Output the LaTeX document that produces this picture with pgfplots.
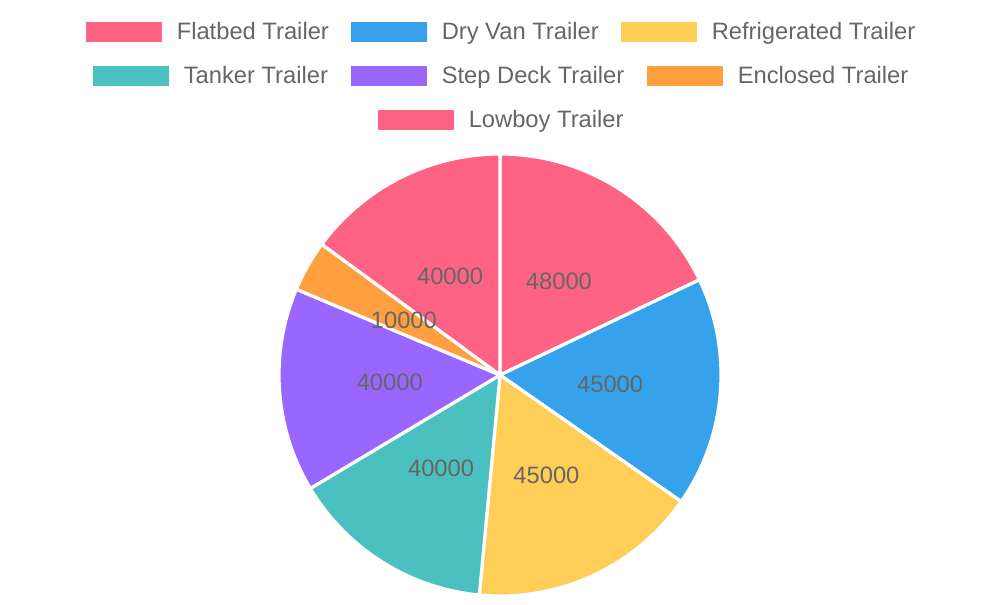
\documentclass[border=0pt]{standalone}
\usepackage{pgfplots}
\usepackage{pgfplotstable}
\usepackage{fontspec}
\setmainfont{Liberation Sans}
\pgfplotsset{compat=1.18}

\definecolor{pieA}{HTML}{FF6384}
\definecolor{pieB}{HTML}{36A2EB}
\definecolor{pieC}{HTML}{FFCE56}
\definecolor{pieD}{HTML}{4BC0C0}
\definecolor{pieE}{HTML}{9966FF}
\definecolor{pieF}{HTML}{FF9F40}
\definecolor{labgrey}{HTML}{666666}

% value, slice colour, legend box position (left x, centre y, in pixels from top)
\pgfplotstableread[col sep=comma]{
name,value,colour,lx,ly
Flatbed Trailer,48000,pieA,86,32
Dry Van Trailer,45000,pieB,351,32
Refrigerated Trailer,45000,pieC,621,32
Tanker Trailer,40000,pieD,93,76
Step Deck Trailer,40000,pieE,351,76
Enclosed Trailer,10000,pieF,647,76
Lowboy Trailer,40000,pieA,378,120
}\pietable

\begin{document}
\begin{tikzpicture}[lab/.style={font=\fontsize{17.8pt}{21pt}\selectfont, text=labgrey, inner sep=0pt}]
\pgfplotstablegetrowsof{\pietable}
\pgfmathtruncatemacro{\lastrow}{\pgfplotsretval-1}
\gdef\total{0}
\foreach \i in {0,...,\lastrow}{%
  \pgfplotstablegetelem{\i}{value}\of\pietable
  \xdef\total{\fpeval{\total+\pgfplotsretval}}%
}
\begin{axis}[hide axis, scale only axis, width=750pt, height=450pt,
  xmin=0, xmax=1000, ymin=0, ymax=600, clip=false]
\path (0,0) rectangle (1000,600);
% slices, clockwise from 12 o'clock
\xdef\startang{90}
\foreach \i in {0,...,\lastrow}{%
  \pgfplotstablegetelem{\i}{value}\of\pietable \let\val\pgfplotsretval
  \pgfplotstablegetelem{\i}{colour}\of\pietable \let\col\pgfplotsretval
  \edef\endang{\fpeval{\startang-360*\val/\total}}%
  \edef\cmd{\noexpand\filldraw[fill=\col, draw=white, line width=2.4pt, line join=round]
    (500,225) -- ++(\startang:165.75pt) arc[start angle=\startang, end angle=\endang, radius=165.75pt] -- cycle;}%
  \cmd
  \xdef\startang{\endang}%
}
% value labels at half radius
\xdef\startang{90}
\foreach \i in {0,...,\lastrow}{%
  \pgfplotstablegetelem{\i}{value}\of\pietable \let\val\pgfplotsretval
  \edef\midang{\fpeval{\startang-180*\val/\total}}%
  \edef\cmd{\noexpand\node[lab] at (\fpeval{500+110.5*cosd(\midang)},\fpeval{225+110.5*sind(\midang)}) {\val};}%
  \cmd
  \xdef\startang{\fpeval{\startang-360*\val/\total}}%
}
% legend
\foreach \i in {0,...,\lastrow}{%
  \pgfplotstablegetelem{\i}{name}\of\pietable \let\nm\pgfplotsretval
  \pgfplotstablegetelem{\i}{colour}\of\pietable \let\col\pgfplotsretval
  \pgfplotstablegetelem{\i}{lx}\of\pietable \let\lx\pgfplotsretval
  \pgfplotstablegetelem{\i}{ly}\of\pietable \let\ly\pgfplotsretval
  \edef\cmd{\noexpand\fill[\col] (\lx,\fpeval{590-\ly}) rectangle (\fpeval{\lx+76},\fpeval{610-\ly});
    \noexpand\node[lab, anchor=base west] at (\fpeval{\lx+90.5},\fpeval{592-\ly}) {\nm};}%
  \cmd
}
\end{axis}
\end{tikzpicture}
\end{document}
